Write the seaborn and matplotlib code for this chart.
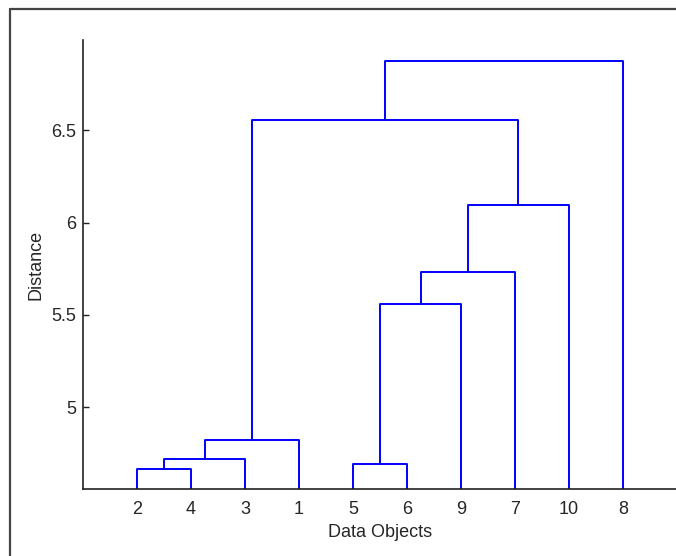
"""
Dendrogram of 10 data objects
"""
import matplotlib
matplotlib.use("Agg")
import matplotlib.pyplot as plt
from matplotlib.lines import Line2D
import seaborn as sns
import pandas as pd
import numpy as np

# leaf order along the x axis (object ids)
leaf_order = [2, 4, 3, 1, 5, 6, 9, 7, 10, 8]

# linkage: cluster 11.. is formed by joining left and right at given height
merge_left = [2, 11, 12, 5, 14, 15, 16, 13, 18]
merge_right = [4, 3, 1, 6, 9, 7, 10, 17, 8]
merge_height = [4.663, 4.721, 4.819, 4.691, 5.561, 5.733, 6.093, 6.554, 6.875]

y_ticks = [5, 5.5, 6, 6.5]
y_tick_labels = ["5", "5.5", "6", "6.5"]

sns.set_style("white")
plt.rcParams['font.family'] = ['Liberation Sans', 'DejaVu Sans']

# node positions and heights
pos = {obj: i + 1 for i, obj in enumerate(leaf_order)}
height = {obj: 0.0 for obj in leaf_order}
rows = []
for k, (a, b, h) in enumerate(zip(merge_left, merge_right, merge_height)):
    node = len(leaf_order) + 1 + k
    xa, xb = pos[a], pos[b]
    ya = height[a] if a > len(leaf_order) else None
    yb = height[b] if b > len(leaf_order) else None
    xs = [xa, xa, xb, xb]
    ys = [ya, h, h, yb]
    for j, (x, y) in enumerate(zip(xs, ys)):
        rows.append({'link': k, 'order': j, 'x': x, 'y': y})
    pos[node] = (xa + xb) / 2
    height[node] = h

df = pd.DataFrame(rows)

fig = plt.figure(figsize=(6.76, 5.56), dpi=100)
ax = fig.add_axes([83 / 676, 67 / 556, 594 / 676, 449 / 556])

ymin, ymax = 4.556, 6.99
df['y'] = df['y'].fillna(ymin - 0.5)

sns.lineplot(data=df, x='x', y='y', units='link', estimator=None, sort=False,
             color='#0000ff', linewidth=1.4, ax=ax, legend=False)

ax.set_xlim(0, len(leaf_order) + 1)
ax.set_ylim(ymin, ymax)
ax.set_xticks(range(1, len(leaf_order) + 1))
ax.set_xticklabels([str(v) for v in leaf_order])
ax.set_yticks(y_ticks)
ax.set_yticklabels(y_tick_labels)
ax.tick_params(axis='y', left=True, direction='in', length=4, width=1,
               color='#222222', pad=5, labelsize=13)
ax.tick_params(axis='x', length=0, pad=9, labelsize=13)
ax.set_xlabel('Data Objects', fontsize=13, labelpad=4)
ax.set_ylabel('Distance', fontsize=13, labelpad=5)

for side in ['top', 'right']:
    ax.spines[side].set_visible(False)
for side in ['left', 'bottom']:
    ax.spines[side].set_color('#222222')
    ax.spines[side].set_linewidth(1.2)

# outer frame (left and top edges of the cropped window)
fig.add_artist(Line2D([10 / 676, 10 / 676], [0, 1 - 9 / 556], color='#444444', linewidth=1.6))
fig.add_artist(Line2D([10 / 676, 1], [1 - 9 / 556, 1 - 9 / 556], color='#444444', linewidth=1.6))

plt.savefig('out.png', dpi=100)
plt.close()
